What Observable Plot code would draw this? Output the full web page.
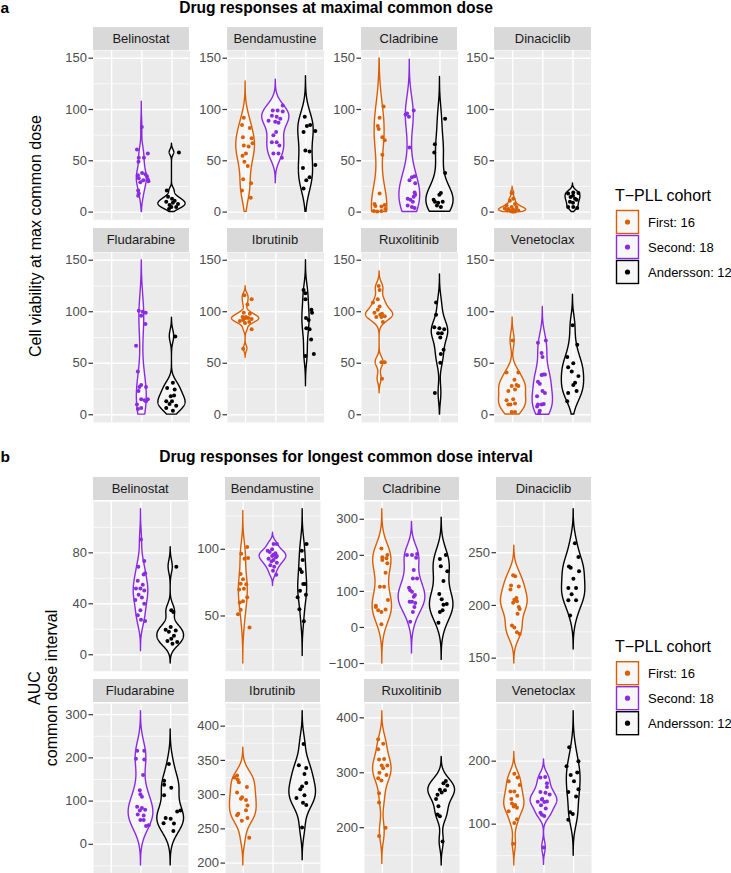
<!DOCTYPE html>
<html>
<head>
<meta charset="utf-8">
<script src="https://cdn.jsdelivr.net/npm/d3@7"></script>
<script src="https://cdn.jsdelivr.net/npm/@observablehq/plot@0.6"></script>
<style>
  html, body { margin: 0; padding: 0; background: #ffffff; }
  #root { position: relative; width: 731px; height: 873px; overflow: hidden; background: #ffffff;
          font-family: "Liberation Sans", Arial, Helvetica, sans-serif; }
  .strip { position: absolute; background: #D9D9D9; color: #1A1A1A; font-size: 13px;
           display: flex; align-items: center; justify-content: center; white-space: nowrap; }
</style>
</head>
<body>
<div id="root"></div>
<script>
// ---------------- DATA ----------------
const cohorts = ["First", "Second", "Andersson"];
const cohortCounts = [16, 18, 12];
const cohortColors = ["#D95F02", "#8A2BE2", "#000000"];
const drugs = ["Belinostat", "Bendamustine", "Cladribine", "Dinaciclib",
               "Fludarabine", "Ibrutinib", "Ruxolitinib", "Venetoclax"];
const titleA = "Drug responses at maximal common dose";
const titleB = "Drug responses for longest common dose interval";
const yTitleA = ["Cell viability at max common dose"];
const yTitleB = ["AUC", "common dose interval"];
const legendTitle = "T\u2212PLL cohort";

// panel a: y ticks and scale limits (shared)
const ticksA = [0, 50, 100, 150];
const limitsA = [0, 150];
// panel b: y ticks per drug (free scales)
const ticksBBelinostat = [0, 40, 80];
const ticksBBendamustine = [50, 100];
const ticksBCladribine = [-100, 0, 100, 200, 300];
const ticksBDinaciclib = [150, 200, 250];
const ticksBFludarabine = [0, 100, 200, 300];
const ticksBIbrutinib = [200, 250, 300, 350, 400];
const ticksBRuxolitinib = [200, 300, 400];
const ticksBVenetoclax = [100, 200];

// points: [value, jitter offset in category units]
// ---- a: cell viability at max common dose ----
const aBelinostatSecond = [[83,0],[61,-0.16],[57,0.2],[53,-0.1],[53,0.07],[49,-0.11],[38,0.01],[37,0.12],[36,-0.13],[35,0.17],[33,-0.1],[32,0.2],[31,0.05],[30,0.22],[29,-0.05],[21,-0.12],[18,-0.1],[16,-0.12]];
const aBelinostatAndersson = [[58,0.23],[21,-0.17],[15,-0.13],[13,0],[11,0.09],[10,-0.19],[9,0.03],[8,0.2],[7,-0.08],[5,0.14],[5,-0.02],[3,-0.1]];
const aBendamustineFirst = [[92,-0.06],[85,-0.12],[82,0.14],[73,-0.09],[72,0.2],[67,0.23],[65,-0.06],[64,0.1],[57,0.01],[55,-0.1],[49,-0.04],[45,0.07],[32,-0.08],[28,0.18],[21,-0.12],[14,0.17]];
const aBendamustineSecond = [[104,0.23],[99,-0.1],[99,0.06],[98,0.23],[94,-0.13],[93,0.03],[91,0.15],[89,-0.24],[88,-0.02],[87,0.09],[78,0.01],[75,-0.08],[68,0.03],[68,-0.13],[65,0.12],[57,-0.08],[57,0.09],[53,0.2]];
const aBendamustineAndersson = [[93,-0.04],[85,0.14],[84,0.03],[79,0.31],[78,-0.08],[60,-0.02],[59,0.12],[46,0.31],[43,-0.1],[34,0.12],[31,0.01],[23,-0.08]];
const aCladribineFirst = [[103,0.13],[92,0],[84,-0.06],[81,-0.03],[73,0.09],[70,0.17],[56,0.09],[18,0],[8,-0.17],[7,0.17],[6,-0.14],[5.5,0.06],[3,0.19],[1,-0.19],[1,0.06],[0.5,-0.08]];
const aCladribineSecond = [[99,0.13],[96,-0.09],[95,-0.14],[93,-0.03],[63,-0.01],[35,0.16],[34,0.07],[31,-0.01],[28,0.18],[19,0.16],[17,0.18],[15,0.13],[13,-0.07],[12,0.02],[10,0.1],[6.5,-0.07],[5,0.07],[4,0.16]];
const aCladribineAndersson = [[91,0.17],[66,-0.17],[58,-0.19],[38,0.17],[18.5,0.03],[17,-0.02],[12,-0.21],[10,-0.17],[10,0.09],[9,-0.06],[6.5,-0.1],[5,0.03]];
const aDinaciclibFirst = [[18.5,-0.03],[13,0.02],[11,-0.09],[8,0.08],[6.5,-0.2],[5,-0.03],[5,0.13],[3.5,-0.26],[3,-0.14],[2.3,0.02],[2,0.13],[1.6,0.19],[1.5,-0.18],[1,-0.07],[0.6,0.08],[0.3,0]];
const aDinaciclibAndersson = [[19,0.01],[18.5,0.18],[18,-0.16],[16,0],[14.6,-0.08],[13,0.07],[12,0.12],[10,-0.1],[9,0],[5,-0.16],[5,0.01],[4,0.14]];
const aFludarabineSecond = [[101,-0.1],[100,0.03],[99,0.13],[96,-0.02],[88,0.12],[67,-0.19],[42,-0.13],[29,-0.02],[27,-0.08],[27,0.14],[23,-0.11],[15,-0.02],[15,0.2],[14,0.09],[13,0.14],[10,-0.16],[6.5,-0.02],[5.5,-0.13]];
const aFludarabineAndersson = [[76,0.11],[31,0.03],[26,-0.16],[24.5,0.09],[18.6,0.07],[18,-0.04],[13,-0.19],[13,0],[10.4,-0.08],[8.8,0.14],[6.5,-0.19],[3.9,0.03]];
const aIbrutinibFirst = [[116,-0.04],[112,0.2],[107,0.06],[99,-0.06],[98,0.14],[95,-0.1],[95,0.01],[94,0.09],[94,0],[93,0.2],[92,-0.08],[91,-0.19],[90,0.12],[89,-0.02],[83,0.2],[64,-0.08]];
const aIbrutinibAndersson = [[121,-0.08],[118,-0.02],[112,-0.02],[102,0.18],[99,0.2],[94,0],[92,0.09],[84,0.01],[83,0.12],[73,0.17],[59,0.26],[57,-0.02]];
const aRuxolitinibFirst = [[125,-0.03],[121,0],[112,-0.06],[109,-0.22],[105,0],[102,-0.06],[99,-0.17],[98,0.08],[97,0.02],[95.5,0.17],[95,0.06],[95,-0.11],[90,0.11],[51,0.06],[51,0.17],[35,0.08]];
const aRuxolitinibAndersson = [[109,-0.13],[97,-0.13],[85,-0.19],[84,-0.02],[83,0.14],[79,-0.06],[79,0.06],[75,0.01],[63,0.12],[59,0.03],[50.5,0.01],[21,-0.17]];
const aVenetoclaxFirst = [[72,0],[41,-0.2],[41,0.19],[34,0.06],[29,0.13],[28,-0.03],[28,0.19],[24.5,0.08],[23,-0.14],[15,0.02],[14,-0.2],[11,0.08],[10,-0.14],[10,-0.07],[2.6,-0.03],[2.6,0.08]];
const aVenetoclaxSecond = [[72,0.1],[70,-0.16],[60,-0.04],[56,-0.01],[39,0.01],[39,0.07],[38.5,-0.04],[32,-0.16],[30,-0.1],[23,-0.01],[21,0.07],[18,-0.19],[10.4,0.03],[10,-0.16],[10,-0.04],[8,-0.19],[4,-0.1],[1.6,-0.12]];
const aVenetoclaxAndersson = [[87,-0.01],[68,0.14],[56,-0.19],[50,0.01],[46,-0.16],[42,-0.04],[37.5,0.18],[31,0.07],[29,0.01],[23,0.12],[21,-0.16],[13,-0.19]];

// ---- b: AUC over common dose interval ----
const bBelinostatSecond = [[90.5,0],[73.5,0.11],[69,-0.09],[64,0.14],[63,0.09],[58,-0.11],[55,0.06],[52,-0.17],[52,-0.02],[50.5,0.11],[47,-0.08],[45,0.03],[43,-0.19],[40,0.11],[35,-0.02],[31,-0.11],[27.5,0],[26.5,0.14]];
const bBelinostatAndersson = [[69,0.19],[35,0.02],[33.5,0.09],[21.7,0],[19.6,-0.17],[19,0.17],[18,-0.06],[15,0.11],[12.5,0.02],[10.7,-0.11],[10,0.22],[8.6,0.06]];
const bBendamustineFirst = [[101.8,0.13],[96.7,-0.07],[93.4,0.16],[92.9,0.04],[81.4,-0.09],[77.6,-0.01],[74.2,-0.09],[73.7,0.1],[70.4,0.02],[69.9,-0.14],[64,0.13],[61,-0.01],[60.2,-0.12],[54.6,-0.09],[51.3,-0.18],[41.3,0.21]];
const bBendamustineSecond = [[104,0.02],[104,0.13],[100,-0.03],[99,-0.18],[98,-0.11],[97,0.08],[96,0.02],[95,0.13],[95,-0.03],[94,0.1],[93,-0.15],[92,0.02],[91,-0.05],[90,0.13],[88,-0.09],[87,0.04],[84,0],[81,0.11]];
const bBendamustineAndersson = [[104,0.13],[99,-0.03],[92,0],[85,-0.09],[83,-0.03],[74,0.08],[74,0.02],[69,-0.09],[66,0.11],[64,-0.17],[55,-0.11],[46,0.04]];
const bCladribineFirst = [[219,-0.03],[201,0.17],[195,0],[192,0.14],[187,0],[178,0.17],[152,0.11],[113,-0.08],[113,0.06],[76,0.19],[60,-0.22],[57,-0.22],[50,0.11],[48,-0.14],[43,-0.03],[9,-0.03]];
const bCladribineSecond = [[204,0.17],[201,-0.17],[201,0],[193,0.14],[159,0.06],[136,0.17],[136,0.03],[110,-0.1],[103,-0.06],[99,0],[90,0.1],[85,0.06],[71,-0.08],[71,0],[68,0.11],[57,0.08],[43,0.03],[16,-0.06]];
const bCladribineAndersson = [[201,0.14],[190,-0.06],[170,-0.03],[156,0.19],[129,0.06],[93,-0.08],[78,0],[65,0.17],[63,0.06],[48,0.03],[43,-0.06],[13,-0.11]];
const bDinaciclibFirst = [[228.7,-0.04],[227.7,0.03],[219,-0.11],[218,0.15],[215,-0.13],[207,0.07],[205.4,0],[204,0.09],[202.5,-0.04],[198.4,0.15],[196.7,0.18],[192,0.11],[181,-0.08],[179,0],[174.5,0.09],[172.8,0.18]];
const bDinaciclibAndersson = [[259,0.04],[246,0.16],[237,-0.16],[235.7,-0.1],[232.5,0.18],[225.4,-0.01],[216.5,-0.18],[216.5,0.08],[210.5,-0.07],[204.8,-0.18],[204.8,0.08],[190.4,-0.12]];
const bFludarabineSecond = [[216.5,-0.13],[216.5,0.11],[198,-0.17],[196,0.11],[160.5,0.07],[125,-0.04],[116,-0.02],[110,0.03],[87,-0.13],[84,0.03],[80,0.14],[78,-0.04],[69,-0.11],[66.5,0.09],[56,-0.02],[56,0.09],[44,0.26],[42.5,0.17]];
const bFludarabineAndersson = [[186,-0.06],[147,-0.22],[138,-0.22],[131,0.02],[113.5,-0.22],[78,0.33],[76,0.22],[61,-0.17],[59,0],[48.6,-0.24],[48,0.11],[31,0.09]];
const bIbrutinibFirst = [[328,-0.21],[325,-0.3],[322,-0.19],[318,-0.15],[311,0.12],[303,-0.21],[296,-0.04],[294,-0.08],[292,0.09],[284,0.14],[277,0.09],[272,-0.17],[270,-0.21],[266,0.14],[262,-0.05],[237,0.2]];
const bIbrutinibAndersson = [[374,0.03],[343,-0.13],[339,0.12],[330,0.06],[317,0.12],[312,-0.02],[308,-0.08],[299,0.06],[295,-0.21],[288,0.01],[285,0.12],[252,-0.02]];
const bRuxolitinibFirst = [[361,-0.14],[353,0.03],[343,-0.14],[325,0.06],[324,-0.11],[313,-0.02],[313,0.17],[308,0.03],[300,-0.1],[296,0.14],[290,-0.14],[286,-0.03],[262.5,-0.11],[246,-0.11],[200,0.11],[185,-0.11]];
const bRuxolitinibAndersson = [[285,0.14],[281,0.06],[277,0.19],[269,-0.06],[268,0.11],[264,0],[260,-0.14],[252,-0.19],[239,-0.11],[224,-0.14],[221,-0.06],[175,0.03]];
const bVenetoclaxFirst = [[180,0],[174,0.11],[168,-0.19],[162,0.18],[152,-0.13],[152,0],[145,0.1],[140,-0.1],[133,-0.08],[130.5,0.03],[128,-0.02],[126,0.09],[120.5,-0.19],[108,0.09],[102,0],[69,-0.04]];
const bVenetoclaxSecond = [[175,0.04],[174,-0.12],[165,0.1],[159,0.1],[151,-0.12],[150,0.05],[147,0.19],[140,-0.06],[139,-0.07],[136,0.1],[135.5,-0.21],[135,0.01],[130,-0.1],[125,0.06],[118,-0.12],[115,-0.07],[113,0.01],[63,-0.01]];
const bVenetoclaxAndersson = [[222,-0.15],[200,0.16],[192,-0.24],[182,0.12],[178,-0.1],[168,0.01],[155.5,0.16],[151,-0.18],[144,0.08],[119,-0.12],[116,-0.03],[107,-0.18]];

// ---------------- tables built from the arrays ----------------
const maxDoseGroups = [
  [null, aBelinostatSecond, aBelinostatAndersson],
  [aBendamustineFirst, aBendamustineSecond, aBendamustineAndersson],
  [aCladribineFirst, aCladribineSecond, aCladribineAndersson],
  [aDinaciclibFirst, null, aDinaciclibAndersson],
  [null, aFludarabineSecond, aFludarabineAndersson],
  [aIbrutinibFirst, null, aIbrutinibAndersson],
  [aRuxolitinibFirst, null, aRuxolitinibAndersson],
  [aVenetoclaxFirst, aVenetoclaxSecond, aVenetoclaxAndersson]
];
const aucGroups = [
  [null, bBelinostatSecond, bBelinostatAndersson],
  [bBendamustineFirst, bBendamustineSecond, bBendamustineAndersson],
  [bCladribineFirst, bCladribineSecond, bCladribineAndersson],
  [bDinaciclibFirst, null, bDinaciclibAndersson],
  [null, bFludarabineSecond, bFludarabineAndersson],
  [bIbrutinibFirst, null, bIbrutinibAndersson],
  [bRuxolitinibFirst, null, bRuxolitinibAndersson],
  [bVenetoclaxFirst, bVenetoclaxSecond, bVenetoclaxAndersson]
];
const aucTicks = [ticksBBelinostat, ticksBBendamustine, ticksBCladribine, ticksBDinaciclib,
                  ticksBFludarabine, ticksBIbrutinib, ticksBRuxolitinib, ticksBVenetoclax];

// ---------------- LAYOUT ----------------
const FONT = '"Liberation Sans", Arial, Helvetica, sans-serif';
const ML = 40;
const colsA = [92.7, 226.7, 360.6, 494.3], wA = 96.6;
const rowsA = [{strip: 26.7, panel: 50, h: 169.3}, {strip: 228.3, panel: 251.7, h: 170}];
const colsB = [92.7, 224.7, 364, 496], wB = 95;
const rowsB = [{strip: 476.7, panel: 501, h: 169.7}, {strip: 679, panel: 703.3, h: 169.7}];

// ---------------- helpers ----------------
function nrd0(v) {
  const s = d3.deviation(v);
  const sorted = v.slice().sort(d3.ascending);
  const iqr = (d3.quantile(sorted, 0.75) - d3.quantile(sorted, 0.25)) / 1.34;
  let lo = Math.min(s, iqr);
  if (!(lo > 0)) lo = s || 1;
  return 0.9 * lo * Math.pow(v.length, -0.2);
}
function densities(groups) {
  return groups.map(g => {
    if (!g) return null;
    const v = g.map(p => p[0]);
    const bw = nrd0(v);
    const lo = d3.min(v) - 3 * bw, hi = d3.max(v) + 3 * bw;
    const n = 512, out = [];
    for (let k = 0; k < n; k++) {
      const y = lo + (hi - lo) * k / (n - 1);
      let s = 0;
      for (const x of v) { const u = (y - x) / bw; s += Math.exp(-0.5 * u * u); }
      out.push({y, d: s / (v.length * bw * Math.sqrt(2 * Math.PI))});
    }
    return out;
  });
}
function violinRows(groups, clip) {
  const dens = densities(groups);
  const maxD = d3.max(dens.filter(Boolean).flat(), r => r.d);
  const rows = [];
  dens.forEach((ds, i) => {
    if (!ds) return;
    for (const r of ds) {
      if (clip && (r.y < clip[0] || r.y > clip[1])) continue;
      const w = 0.45 * r.d / maxD;
      rows.push({cohort: cohorts[i], y: r.y, x1: i - w, x2: i + w});
    }
  });
  return rows;
}
function minorTicks(ticks, domain) {
  const s = ticks.length > 1 ? ticks[1] - ticks[0] : 50;
  const m = [ticks[0] - s / 2, ...ticks.map(t => t + s / 2)];
  return m.filter(t => t >= domain[0] && t <= domain[1]);
}
function facetPlot(groups, ticks, yDomain, clip, w, h) {
  const vrows = violinRows(groups, clip);
  if (!yDomain) {
    const lo = d3.min(vrows, r => r.y), hi = d3.max(vrows, r => r.y);
    const pad = 0.05 * (hi - lo);
    yDomain = [lo - pad, hi + pad];
  }
  const pts = [];
  groups.forEach((g, i) => { if (g) g.forEach(([v, dx]) => pts.push({cohort: cohorts[i], x: i + dx, y: v})); });
  const majors = ticks.filter(t => t >= yDomain[0] && t <= yDomain[1]);
  return Plot.plot({
    width: w + ML, height: h,
    marginLeft: ML, marginRight: 0, marginTop: 0, marginBottom: 0,
    x: {domain: [-0.6, 2.6], axis: null},
    y: {domain: yDomain, label: null},
    color: {domain: cohorts, range: cohortColors},
    style: {fontFamily: FONT, fontSize: "13px", background: "transparent", overflow: "visible"},
    marks: [
      Plot.frame({fill: "#EBEBEB", stroke: "none"}),
      Plot.ruleY(minorTicks(ticks, yDomain), {stroke: "#ffffff", strokeWidth: 0.7}),
      Plot.ruleY(majors, {stroke: "#ffffff", strokeWidth: 1.4}),
      Plot.ruleX([0, 1, 2], {stroke: "#ffffff", strokeWidth: 1.4}),
      Plot.areaX(vrows, {y: "y", x1: "x1", x2: "x2", z: "cohort", fill: "#ffffff", fillOpacity: 0.5,
                         stroke: "cohort", strokeWidth: 1.4, strokeLinejoin: "round"}),
      Plot.dot(pts, {x: "x", y: "y", fill: "cohort", r: 2}),
      Plot.axisY(majors, {anchor: "left", label: null, tickSize: 4.5, tickPadding: 2, fontSize: 13,
                          stroke: "#333333", fill: "#4D4D4D", strokeWidth: 1.2})
    ]
  });
}

// ---------------- build ----------------
const root = document.getElementById("root");
function place(el, left, top) {
  el.style.position = "absolute";
  el.style.left = left + "px";
  el.style.top = top + "px";
  root.appendChild(el);
}
function strip(label, left, top, w) {
  const d = document.createElement("div");
  d.className = "strip";
  d.style.left = left + "px"; d.style.top = top + "px";
  d.style.width = w + "px"; d.style.height = "23.3px";
  d.textContent = label;
  root.appendChild(d);
}

drugs.forEach((drug, k) => {
  const c = k % 4, r = Math.floor(k / 4);
  // panel a
  const ra = rowsA[r];
  strip(drug, colsA[c], ra.strip, wA);
  place(facetPlot(maxDoseGroups[k], ticksA, [limitsA[0] - 7.5, limitsA[1] + 7.5], limitsA, wA, ra.h),
        colsA[c] - ML, ra.panel);
  // panel b
  const rb = rowsB[r];
  strip(drug, colsB[c], rb.strip, wB);
  place(facetPlot(aucGroups[k], aucTicks[k], null, null, wB, rb.h), colsB[c] - ML, rb.panel);
});

// ---------------- titles, axis titles, legends ----------------
const overlay = d3.create("svg")
  .attr("width", 731).attr("height", 873)
  .style("position", "absolute").style("left", "0px").style("top", "0px")
  .style("pointer-events", "none")
  .attr("font-family", FONT);

function txt(x, y, s, size, weight, anchor) {
  overlay.append("text").attr("x", x).attr("y", y).attr("font-size", size)
    .attr("font-weight", weight || "normal").attr("text-anchor", anchor || "start")
    .attr("fill", "#000").text(s);
}
txt(0.5, 12.5, "a", 15.5, "bold");
txt(336, 12.5, titleA, 15.6, "bold", "middle");
txt(0.5, 462, "b", 15.5, "bold");
txt(346, 462, titleB, 15.6, "bold", "middle");

overlay.append("text").attr("transform", "translate(41,236) rotate(-90)")
  .attr("text-anchor", "middle").attr("font-size", 16).text(yTitleA[0]);
overlay.append("text").attr("transform", "translate(40,688) rotate(-90)")
  .attr("text-anchor", "middle").attr("font-size", 16).text(yTitleB[0]);
overlay.append("text").attr("transform", "translate(57.3,688) rotate(-90)")
  .attr("text-anchor", "middle").attr("font-size", 16).text(yTitleB[1]);

function legend(titleBaseline, keyTop) {
  txt(615, titleBaseline, legendTitle, 16);
  cohorts.forEach((c, i) => {
    const y = keyTop + i * 25;
    overlay.append("rect").attr("x", 616.5).attr("y", y).attr("width", 22).attr("height", 23)
      .attr("fill", "#F7F7F7").attr("stroke", cohortColors[i]).attr("stroke-width", 1.4);
    overlay.append("circle").attr("cx", 627.5).attr("cy", y + 11.5).attr("r", 2.6).attr("fill", cohortColors[i]);
    txt(648, y + 16.2, `${c}: ${cohortCounts[i]}`, 13);
  });
}
legend(201, 210.5);
legend(652, 661.7);

root.appendChild(overlay.node());
</script>
</body>
</html>
